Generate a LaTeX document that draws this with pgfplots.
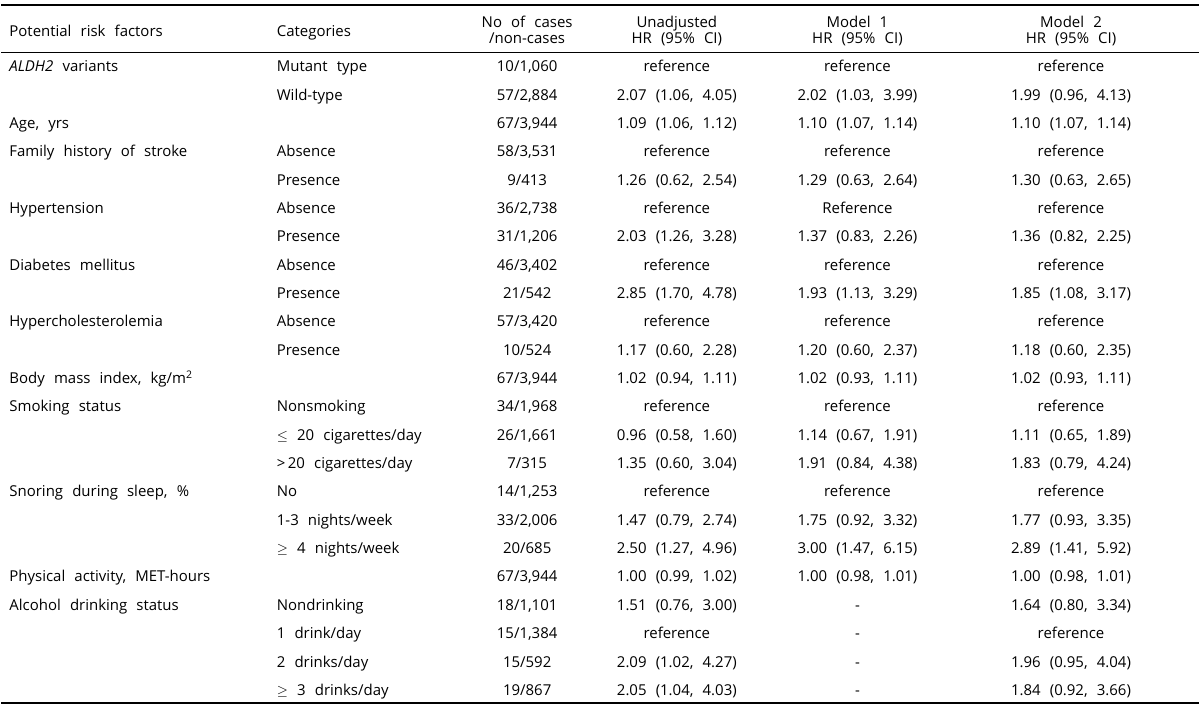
\documentclass[border=0pt]{standalone}
\usepackage{fontspec}
\setmainfont{Open Sans}[WordSpace={2.35}]
\usepackage{pgfplots}
\usepackage{pgfplotstable}
\pgfplotsset{compat=1.18}

\pgfplotstableread[col sep=semicolon]{
y;a;b;c;d;e;f
72.0;\textit{ALDH2} variants;Mutant type;10/1,060;reference;reference;reference
100.4;{};Wild-type;57/2,884;2.07 (1.06, 4.05);2.02 (1.03, 3.99);1.99 (0.96, 4.13)
128.8;Age, yrs;{};67/3,944;1.09 (1.06, 1.12);1.10 (1.07, 1.14);1.10 (1.07, 1.14)
157.2;Family history of stroke;Absence;58/3,531;reference;reference;reference
185.6;{};Presence;9/413;1.26 (0.62, 2.54);1.29 (0.63, 2.64);1.30 (0.63, 2.65)
214.0;Hypertension;Absence;36/2,738;reference;Reference;reference
242.4;{};Presence;31/1,206;2.03 (1.26, 3.28);1.37 (0.83, 2.26);1.36 (0.82, 2.25)
270.8;Diabetes mellitus;Absence;46/3,402;reference;reference;reference
299.2;{};Presence;21/542;2.85 (1.70, 4.78);1.93 (1.13, 3.29);1.85 (1.08, 3.17)
327.6;Hypercholesterolemia;Absence;57/3,420;reference;reference;reference
356.0;{};Presence;10/524;1.17 (0.60, 2.28);1.20 (0.60, 2.37);1.18 (0.60, 2.35)
384.4;Body mass index, kg/m\textsuperscript{2};{};67/3,944;1.02 (0.94, 1.11);1.02 (0.93, 1.11);1.02 (0.93, 1.11)
412.8;Smoking status;Nonsmoking;34/1,968;reference;reference;reference
441.2;{};$\leq$ 20 cigarettes/day;26/1,661;0.96 (0.58, 1.60);1.14 (0.67, 1.91);1.11 (0.65, 1.89)
469.6;{};>\,20 cigarettes/day;7/315;1.35 (0.60, 3.04);1.91 (0.84, 4.38);1.83 (0.79, 4.24)
498.0;Snoring during sleep, \%;No;14/1,253;reference;reference;reference
526.4;{};1-3 nights/week;33/2,006;1.47 (0.79, 2.74);1.75 (0.92, 3.32);1.77 (0.93, 3.35)
554.8;{};$\geq$ 4 nights/week;20/685;2.50 (1.27, 4.96);3.00 (1.47, 6.15);2.89 (1.41, 5.92)
583.2;Physical activity, MET-hours;{};67/3,944;1.00 (0.99, 1.02);1.00 (0.98, 1.01);1.00 (0.98, 1.01)
611.6;Alcohol drinking status;Nondrinking;18/1,101;1.51 (0.76, 3.00);-;1.64 (0.80, 3.34)
640.0;{};1 drink/day;15/1,384;reference;-;reference
668.4;{};2 drinks/day;15/592;2.09 (1.02, 4.27);-;1.96 (0.95, 4.04)
696.8;{};$\geq$ 3 drinks/day;19/867;2.05 (1.04, 4.03);-;1.84 (0.92, 3.66)
}\tbl

\pgfplotstableread[col sep=semicolon]{
y;a;b;c;d;e;f
27.2;{};{};No of cases;Unadjusted;Model 1;Model 2
36.2;Potential risk factors;Categories;{};{};{};{}
43.4;{};{};/non-cases;HR (95\% CI);HR (95\% CI);HR (95\% CI)
}\hdr

\pgfplotsset{
  txt/.style={draw=none, mark=none, nodes near coords, point meta=explicit symbolic,
    every node near coord/.append style={inner sep=0pt, text=black,
      font=\fontsize{15bp}{17bp}\selectfont, anchor=#1}},
}

\begin{document}
\begin{tikzpicture}
\begin{axis}[scale only axis, width=1200bp, height=710bp,
  xmin=0, xmax=1200, ymin=0, ymax=710, y dir=reverse,
  hide axis, clip=false]
\addplot[draw=none, mark=none] coordinates {(0,0) (1200,710)};
\addplot[black, line width=2bp, mark=none] coordinates {(0,5) (1200,5)};
\addplot[black, line width=0.9bp, mark=none] coordinates {(0,52.5) (1200,52.5)};
\addplot[black, line width=2.5bp, mark=none] coordinates {(0,704.5) (1200,704.5)};
% body
\addplot[txt=base west] table[x expr=8, y=y, meta=a]{\tbl};
\addplot[txt=base west] table[x expr=276, y=y, meta=b]{\tbl};
\addplot[txt=base] table[x expr=527, y=y, meta=c]{\tbl};
\addplot[txt=base] table[x expr=677, y=y, meta=d]{\tbl};
\addplot[txt=base] table[x expr=858, y=y, meta=e]{\tbl};
\addplot[txt=base] table[x expr=1072, y=y, meta=f]{\tbl};
% header
\addplot[txt=base west] table[x expr=8, y=y, meta=a]{\hdr};
\addplot[txt=base west] table[x expr=276, y=y, meta=b]{\hdr};
\addplot[txt=base] table[x expr=527, y=y, meta=c]{\hdr};
\addplot[txt=base] table[x expr=677, y=y, meta=d]{\hdr};
\addplot[txt=base] table[x expr=858, y=y, meta=e]{\hdr};
\addplot[txt=base] table[x expr=1072, y=y, meta=f]{\hdr};
\end{axis}
\end{tikzpicture}
\end{document}
